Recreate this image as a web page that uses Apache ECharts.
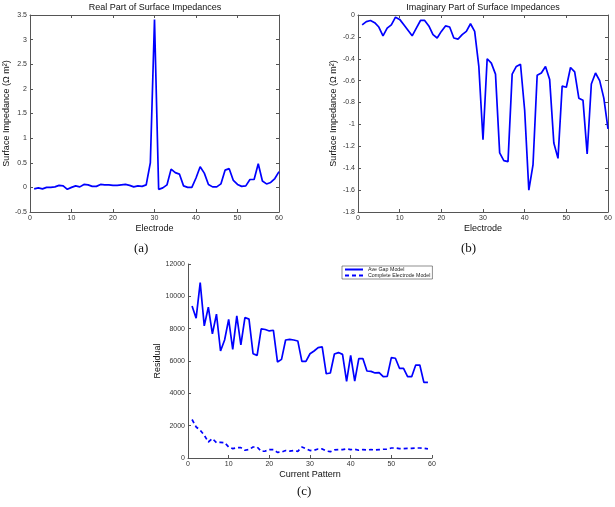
<!DOCTYPE html>
<html><head><meta charset="utf-8">
<script src="https://cdn.jsdelivr.net/npm/echarts@6/dist/echarts.min.js"></script>
<style>html,body{margin:0;padding:0;background:#fff}#c{width:615px;height:507px}</style>
</head><body><div id="c"></div>
<script>
// ---- data ----
const realPart = [-0.03,-0.01,-0.03,0.0,0.0,0.01,0.04,0.03,-0.04,0.0,0.03,0.01,0.06,0.05,0.02,0.02,0.06,0.05,0.05,0.04,0.04,0.05,0.06,0.04,0.01,0.03,0.02,0.05,0.5,3.41,-0.04,-0.01,0.05,0.37,0.3,0.27,0.03,0.0,0.0,0.19,0.42,0.29,0.06,0.01,0.01,0.07,0.35,0.38,0.14,0.06,0.02,0.03,0.16,0.16,0.48,0.13,0.07,0.1,0.18,0.32];
const imagPart = [-0.09,-0.06,-0.05,-0.07,-0.11,-0.19,-0.12,-0.09,-0.02,-0.04,-0.09,-0.14,-0.19,-0.12,-0.05,-0.05,-0.10,-0.18,-0.21,-0.15,-0.10,-0.11,-0.21,-0.22,-0.18,-0.15,-0.08,-0.15,-0.47,-1.14,-0.40,-0.44,-0.54,-1.26,-1.33,-1.34,-0.54,-0.47,-0.45,-0.87,-1.60,-1.37,-0.55,-0.53,-0.47,-0.59,-1.17,-1.31,-0.65,-0.66,-0.48,-0.52,-0.76,-0.78,-1.27,-0.63,-0.53,-0.60,-0.76,-1.04];
const aveGap = [9400,8650,10850,8170,9330,7680,8900,6620,7300,8570,6720,8790,6990,8690,8590,6450,6350,7990,7950,7860,7900,5940,6100,7300,7340,7300,7240,5980,5980,6450,6620,6830,6870,5210,5260,6430,6520,6410,4740,6350,4760,6150,6150,5380,5360,5260,5280,5030,5050,6210,6170,5550,5550,5030,5030,5750,5750,4680,4680];
const completeElectrode = [2380,1920,1720,1410,990,1200,950,970,950,680,580,640,640,480,520,680,680,410,430,520,520,350,370,460,430,460,410,680,580,460,480,560,560,430,390,500,520,520,560,520,540,480,520,500,520,500,520,540,540,620,620,580,580,600,600,620,620,600,560];
const titleA = 'Real Part of Surface Impedances';
const titleB = 'Imaginary Part of Surface Impedances';
const yNameAB = 'Surface Impedance (Ω m²)';
const xNameAB = 'Electrode';
const xNameC = 'Current Pattern';
const yNameC = 'Residual';
const legendNames = ['Ave Gap Model','Complete Electrode Model'];

const pairs = (arr) => arr.map((v,i)=>[i+1,v]);
const FONT = 'Liberation Sans, Arial, sans-serif';
const AX = '#555';
const lbl = {fontSize:7, color:'#333', fontFamily:FONT, formatter:(v)=>String(v)};

function mainX(grid, name){
  return {type:'value', gridIndex:grid, min:0, max:60, interval:10, position:'bottom',
    name:name, nameLocation:'middle', nameGap:12,
    nameTextStyle:{fontSize:9, color:'#111', fontFamily:FONT},
    axisLine:{show:true, onZero:false, lineStyle:{color:AX, width:1}},
    axisTick:{show:true, inside:true, length:3, lineStyle:{color:AX}},
    axisLabel:Object.assign({margin:3}, lbl),
    splitLine:{show:false}};
}
function mirrorX(grid){
  return {type:'value', gridIndex:grid, min:0, max:60, interval:10, position:'top',
    axisLine:{show:true, onZero:false, lineStyle:{color:AX, width:1}},
    axisTick:{show:true, inside:true, length:3, lineStyle:{color:AX}},
    axisLabel:{show:false}, splitLine:{show:false}};
}
function mainY(grid, min, max, interval, name, gap){
  return {type:'value', gridIndex:grid, min:min, max:max, interval:interval, position:'left',
    name:name, nameLocation:'middle', nameGap:gap, nameRotate:90,
    nameTextStyle:{fontSize:9, color:'#111', fontFamily:FONT},
    axisLine:{show:true, onZero:false, lineStyle:{color:AX, width:1}},
    axisTick:{show:true, inside:true, length:3, lineStyle:{color:AX}},
    axisLabel:Object.assign({margin:3}, lbl),
    splitLine:{show:false}};
}
function mirrorY(grid, min, max, interval){
  return {type:'value', gridIndex:grid, min:min, max:max, interval:interval, position:'right',
    axisLine:{show:true, onZero:false, lineStyle:{color:AX, width:1}},
    axisTick:{show:true, inside:true, length:3, lineStyle:{color:AX}},
    axisLabel:{show:false}, splitLine:{show:false}};
}

const chart = echarts.init(document.getElementById('c'), null, {renderer:'canvas'});
chart.setOption({
  backgroundColor:'#fff',
  animation:false,
  title:[
    {text:titleA, left:155, top:3, padding:0, textAlign:'center', textStyle:{fontSize:9, fontWeight:'normal', color:'#111', fontFamily:FONT}},
    {text:titleB, left:483, top:3, padding:0, textAlign:'center', textStyle:{fontSize:9, fontWeight:'normal', color:'#111', fontFamily:FONT}}
  ],
  grid:[
    {left:30, top:15, width:249, height:197, containLabel:false},
    {left:358, top:15, width:250, height:197, containLabel:false},
    {left:188, top:264, width:244, height:194, containLabel:false}
  ],
  xAxis:[ mainX(0, xNameAB), mirrorX(0), mainX(1, xNameAB), mirrorX(1), mainX(2, xNameC) ],
  yAxis:[
    mainY(0, -0.5, 3.5, 0.5, yNameAB, 19), mirrorY(0, -0.5, 3.5, 0.5),
    mainY(1, -1.8, 0, 0.2, yNameAB, 20), mirrorY(1, -1.8, 0, 0.2),
    mainY(2, 0, 12000, 2000, yNameC, 24)
  ],
  legend:{
    data:legendNames, orient:'vertical', left:342, top:266,
    itemWidth:18, itemHeight:6, itemGap:1, padding:[1,2,1,2],
    itemStyle:{color:'transparent', borderWidth:0, opacity:0},
    borderColor:'#444', borderWidth:0.6, backgroundColor:'#fff',
    textStyle:{fontSize:5.3, color:'#222', fontFamily:FONT}
  },
  series:[
    {type:'line', xAxisIndex:0, yAxisIndex:0, data:pairs(realPart), symbol:'none',
      lineStyle:{color:'#0000ff', width:1.7}, itemStyle:{color:'#0000ff'}},
    {type:'line', xAxisIndex:2, yAxisIndex:2, data:pairs(imagPart), symbol:'none',
      lineStyle:{color:'#0000ff', width:1.7}, itemStyle:{color:'#0000ff'}},
    {type:'line', name:legendNames[0], xAxisIndex:4, yAxisIndex:4, data:pairs(aveGap), symbol:'none',
      lineStyle:{color:'#0000ff', width:1.7}, itemStyle:{color:'#0000ff'}},
    {type:'line', name:legendNames[1], xAxisIndex:4, yAxisIndex:4, data:pairs(completeElectrode), symbol:'none',
      lineStyle:{color:'#0000ff', width:1.7, type:[4,3]}, itemStyle:{color:'#0000ff'}}
  ],
  graphic:[
    {type:'text', left:134, top:242, style:{text:'(a)', font:'13px "Liberation Serif", "Times New Roman", serif', fill:'#111'}},
    {type:'text', left:461, top:242, style:{text:'(b)', font:'13px "Liberation Serif", "Times New Roman", serif', fill:'#111'}},
    {type:'text', left:297, top:485, style:{text:'(c)', font:'13px "Liberation Serif", "Times New Roman", serif', fill:'#111'}}
  ]
});
</script></body></html>
